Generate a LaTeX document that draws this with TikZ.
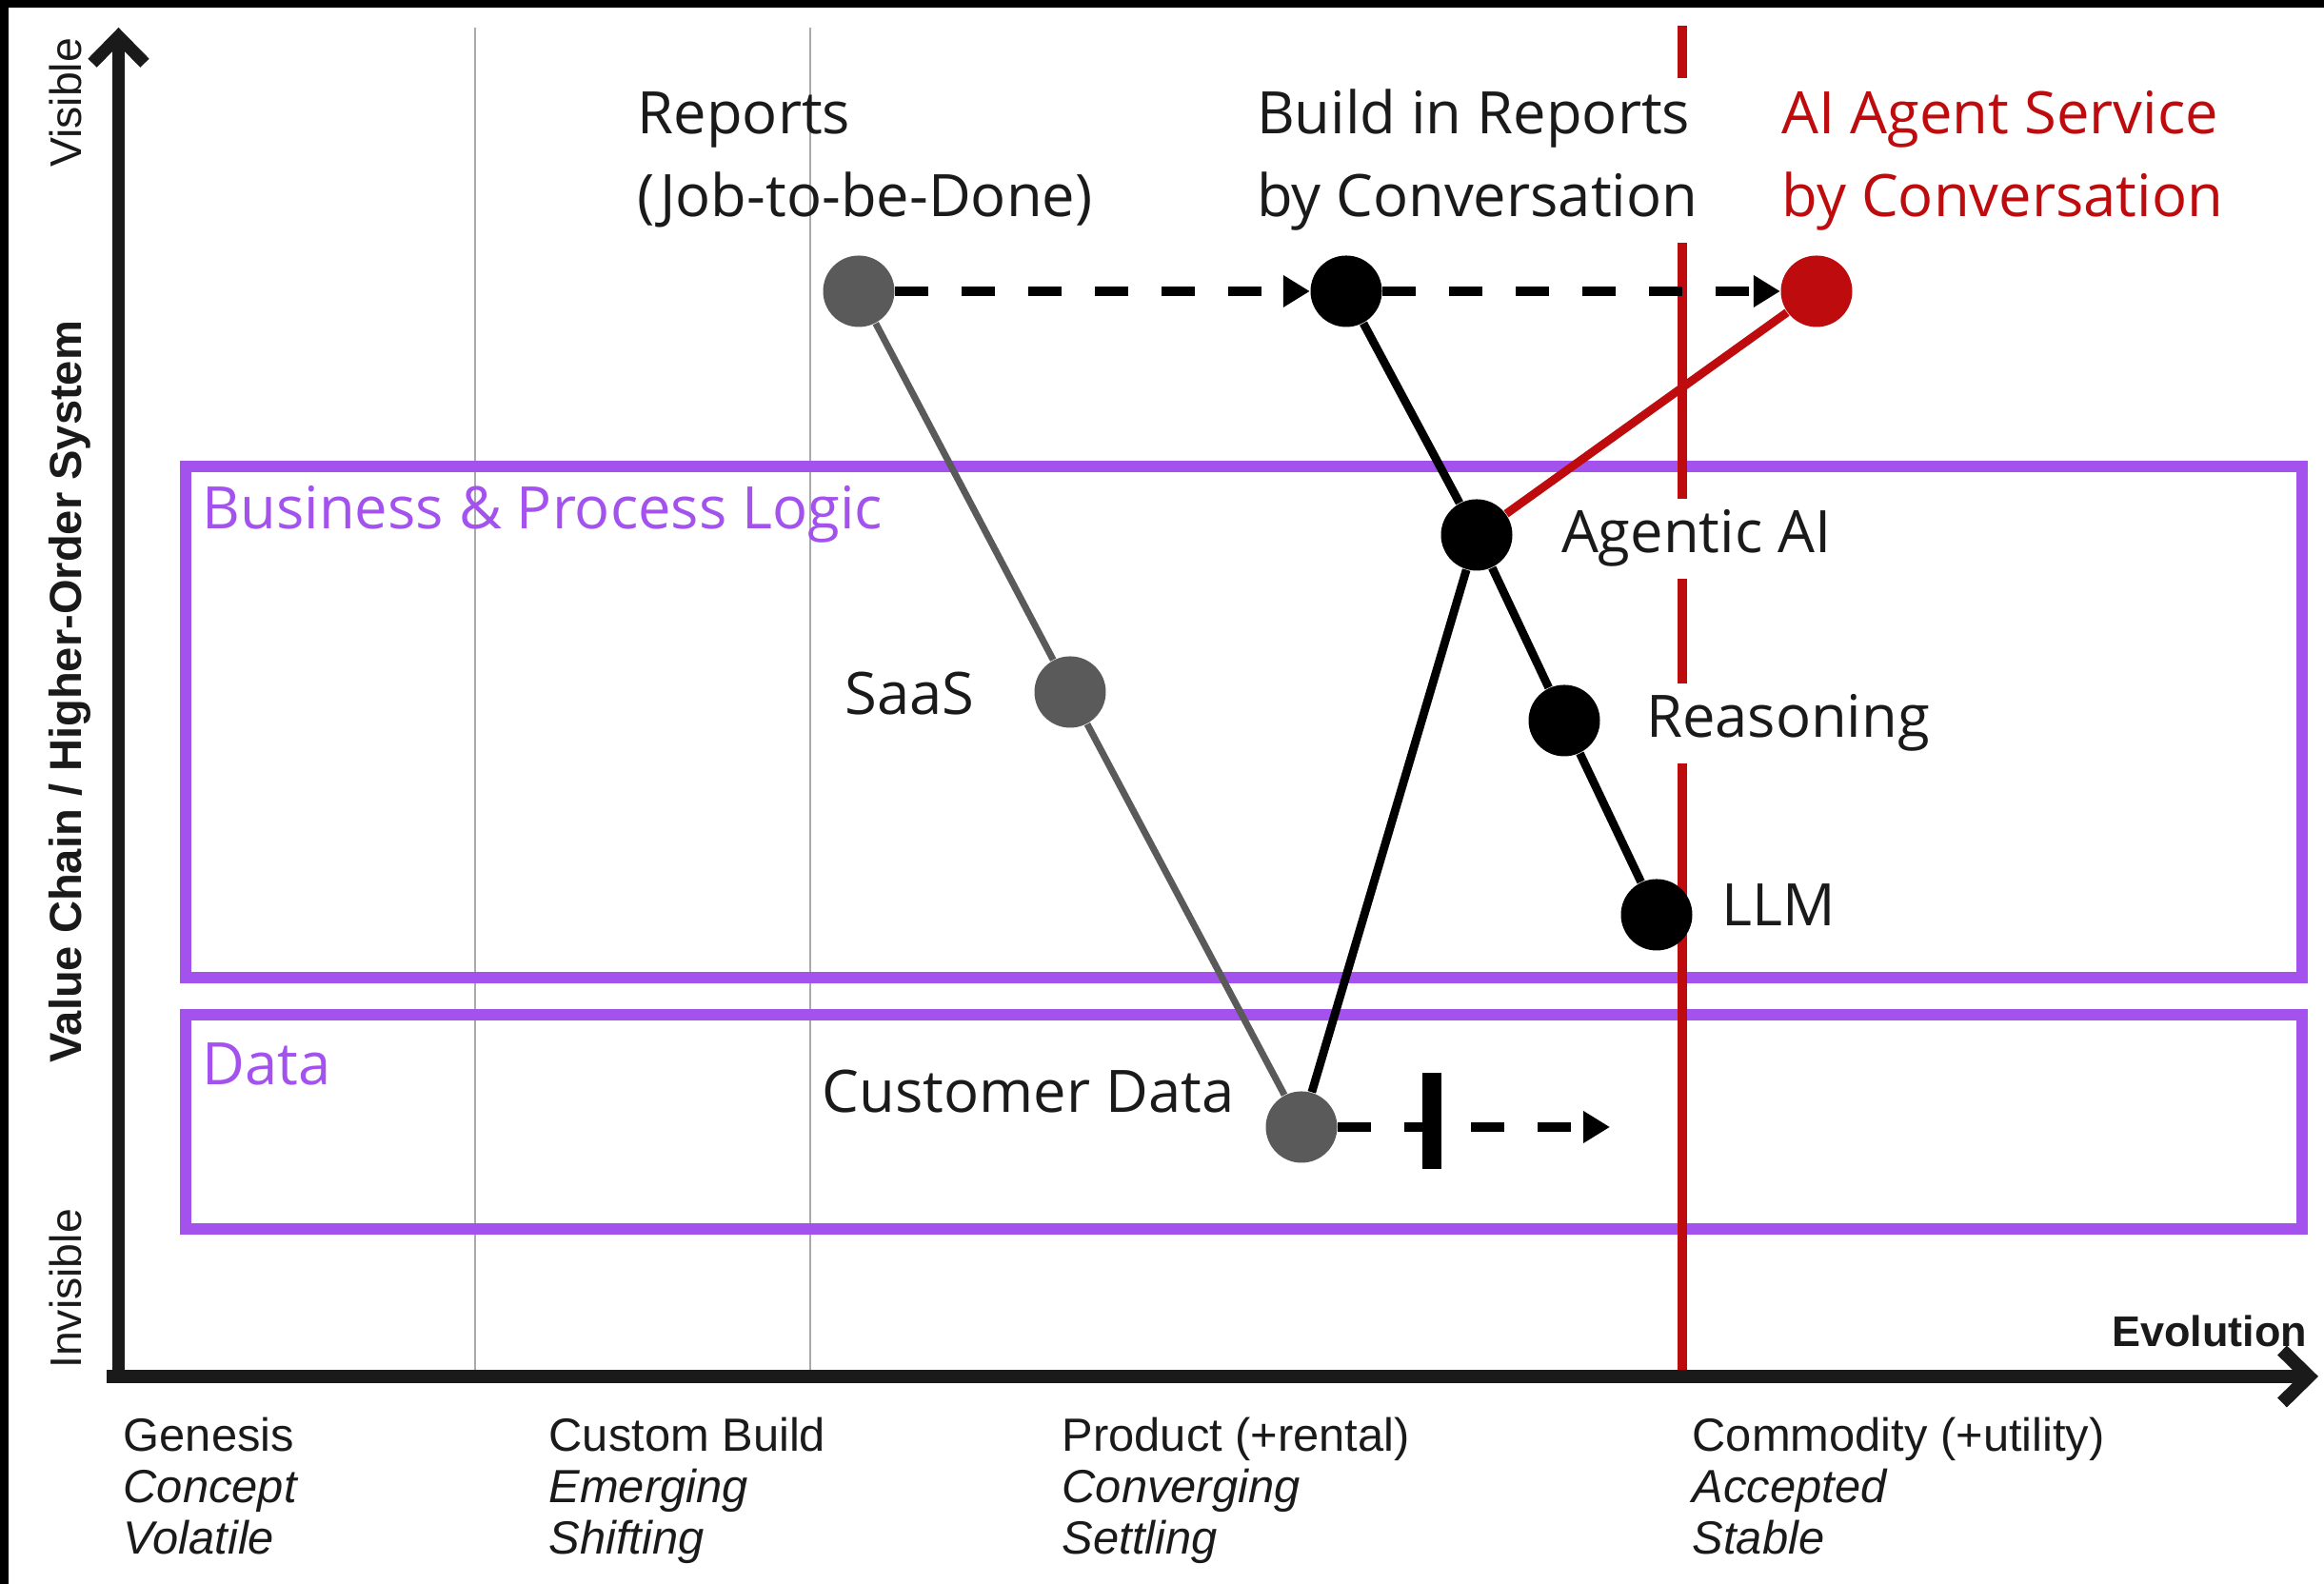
\documentclass[tikz,border=0pt]{standalone}
\usepackage{fontspec}
\setmainfont{Liberation Sans}
\newfontfamily\labelfont{Open Sans}
\usetikzlibrary{arrows.meta}
\definecolor{ink}{RGB}{26,26,26}
\definecolor{stone}{RGB}{90,90,90}
\definecolor{signal}{RGB}{190,12,14}
\definecolor{violet}{RGB}{163,82,238}
\definecolor{rule}{RGB}{170,170,170}
\tikzset{
  dot/.style={circle, minimum size=0.75cm, inner sep=0pt},
  lbl/.style={anchor=base west, inner sep=0pt, align=left, text=ink, font={\labelfont\fontsize{17.5}{24.75}\selectfont}},
  mask/.style={fill=white, inner sep=3.5pt},
  stage/.style={anchor=base west, inner sep=0pt, align=left, text=ink, font={\fontsize{13.9}{15.4}\selectfont}},
  side/.style={rotate=90, anchor=base, inner sep=0pt, text=ink, font={\fontsize{13.2}{15}\selectfont}},
  flow/.style={line width=2.85pt, dash pattern=on 9.96pt off 9.96pt, -{Triangle[length=0.28cm,width=0.32cm]}}
}
\begin{document}
\begin{tikzpicture}
\useasboundingbox (0,0) rectangle (24.41,16.64);
\fill[black] (0,16.555) rectangle (24.41,16.64);
\fill[black] (0,0) rectangle (0.086,16.64);
\draw[rule, line width=0.6pt] (4.99,16.35) -- (4.99,2.18);
\draw[rule, line width=0.6pt] (8.51,16.35) -- (8.51,2.18);
\draw[violet, line width=3.4pt] (1.95,11.74) rectangle (24.18,6.37);
\draw[violet, line width=3.4pt] (1.95,5.98) rectangle (24.18,3.73);
\draw[signal, line width=2.6pt] (17.67,16.37) -- (17.67,2.18);
\coordinate (o) at (1.245,2.11);
\coordinate (ytop) at (1.245,16.35);
\coordinate (xstart) at (1.12,2.18);
\coordinate (xend) at (24.35,2.18);
\draw[ink, line width=0.13cm, -{Straight Barb[length=0.28cm,width=0.55cm]}] (o) -- (ytop);
\draw[ink, line width=0.14cm, -{Straight Barb[length=0.28cm,width=0.55cm]}] (xstart) -- (xend);
\node[side] (visible) at (0.86,15.56) {Visible};
\node[side, font={\bfseries\fontsize{13.4}{15}\selectfont}] (valuechain) at (0.86,9.37) {Value Chain / Higher-Order System};
\node[side] (invisible) at (0.86,3.10) {Invisible};
\node[anchor=base east, inner sep=0pt, text=ink, font={\bfseries\fontsize{12.8}{15}\selectfont}] (evolution) at (24.24,2.49) {Evolution};
\node[stage] (genesis) at (1.29,0.31) {Genesis\\\textit{Concept}\\\textit{Volatile}};
\node[stage] (custom) at (5.76,0.31) {Custom Build\\\textit{Emerging}\\\textit{Shifting}};
\node[stage] (product) at (11.15,0.31) {Product (+rental)\\\textit{Converging}\\\textit{Settling}};
\node[stage] (commodity) at (17.77,0.31) {Commodity (+utility)\\\textit{Accepted}\\\textit{Stable}};
\node[lbl, text=violet] (bizlbl) at (2.12,11.08) {Business \& Process Logic};
\node[lbl, text=violet] (datalbl) at (2.12,5.24) {Data};
\node[lbl] (replbl) at (6.69,14.36) {Reports\\(Job-to-be-Done)};
\node[lbl, mask] (buildlbl) at (13.07,14.36) {Build in Reports\\by Conversation};
\node[lbl, text=signal] (agentlbl) at (18.71,14.36) {AI Agent Service\\by Conversation};
\node[lbl, mask] (agenticlbl) at (16.27,10.83) {Agentic AI};
\node[lbl, mask] (reasonlbl) at (17.16,8.89) {Reasoning};
\node[lbl] (llmlbl) at (18.08,6.91) {LLM};
\node[lbl, anchor=base east] (saaslbl) at (10.24,9.13) {SaaS};
\node[lbl, anchor=base east] (custlbl) at (12.97,4.95) {Customer Data};
\node[dot, fill=stone] (rep) at (9.02,13.58) {};
\node[dot, fill=black] (build) at (14.14,13.58) {};
\node[dot, fill=signal] (agent) at (19.08,13.58) {};
\node[dot, fill=black] (agentic) at (15.51,11.02) {};
\node[dot, fill=black] (reason) at (16.43,9.07) {};
\node[dot, fill=black] (llm) at (17.40,7.03) {};
\node[dot, fill=stone] (saas) at (11.24,9.37) {};
\node[dot, fill=stone] (cust) at (13.67,4.80) {};
\draw[stone, line width=2pt] (rep) -- (saas) -- (cust);
\draw[line width=2.5pt] (build) -- (agentic) -- (reason) -- (llm);
\draw[line width=2.5pt] (cust) -- (agentic);
\draw[signal, line width=2.5pt] (agentic) -- (agent);
\draw[flow] (rep) -- (build);
\draw[flow] (build) -- (agent);
\coordinate (custend) at (16.91,4.80);
\coordinate (bartop) at (15.04,5.37);
\coordinate (barbot) at (15.04,4.36);
\draw[flow] (cust) -- (custend);
\draw[line width=0.2cm] (bartop) -- (barbot);
\end{tikzpicture}
\end{document}
